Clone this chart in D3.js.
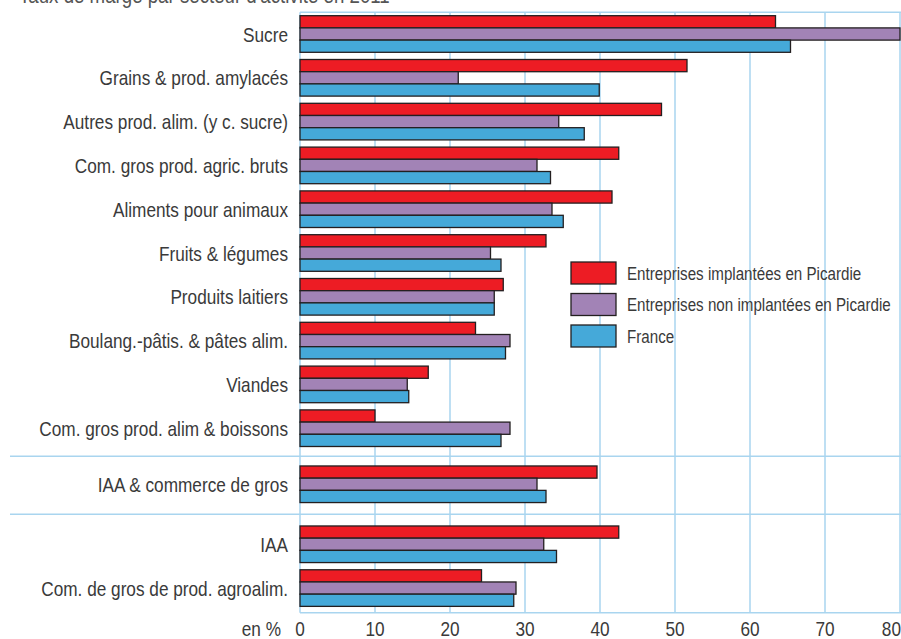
<!DOCTYPE html>
<html>
<head>
<meta charset="utf-8">
<script src="https://cdn.jsdelivr.net/npm/d3@7/dist/d3.min.js"></script>
<style>
  body { margin: 0; background: #fff; }
  svg text { font-family: "Liberation Sans", Arial, sans-serif; fill: #3a3a3a; }
</style>
</head>
<body>
<svg id="container" width="901" height="639"></svg>
<script>
var title = "Taux de marge par secteur d'activité en 2011";

var categories = [
  "Sucre",
  "Grains & prod. amylacés",
  "Autres prod. alim. (y c. sucre)",
  "Com. gros prod. agric. bruts",
  "Aliments pour animaux",
  "Fruits & légumes",
  "Produits laitiers",
  "Boulang.-pâtis. & pâtes alim.",
  "Viandes",
  "Com. gros prod. alim & boissons",
  "IAA & commerce de gros",
  "IAA",
  "Com. de gros de prod. agroalim."
];

// how many categories sit in each block (blocks split by a line)
var blockSizes = [10, 1, 2];

var seriesNames = [
  "Entreprises implantées en Picardie",
  "Entreprises non implantées en Picardie",
  "France"
];

var picardie    = [63.4, 51.6, 48.2, 42.5, 41.6, 32.8, 27.1, 23.4, 17.1, 10.0, 39.6, 42.5, 24.2];
var nonPicardie = [80.0, 21.1, 34.5, 31.6, 33.6, 25.4, 25.9, 28.0, 14.3, 28.0, 31.6, 32.5, 28.8];
var france      = [65.4, 39.9, 37.9, 33.4, 35.1, 26.8, 25.9, 27.4, 14.5, 26.8, 32.8, 34.2, 28.5];

var xTicks = [0, 10, 20, 30, 40, 50, 60, 70, 80];

var colors = ["#ed1c24", "#a283b6", "#45a9d9"];
var gridColor = "#a9d5ef";

// the source uses a narrow sans, squeeze Liberation Sans to get the same widths
var narrow = 0.82;

var svg = d3.select("#container");

var x = d3.scaleLinear().domain([0, 80]).range([300, 900]);

// slot index of each category, with extra room where a block starts
var gaps = [0, 0.28, 0.37];
var slots = [];
var acc = 0, idx = 0;
blockSizes.forEach(function(n, b) {
  acc += gaps[b];
  for (var k = 0; k < n; k++) {
    slots.push(idx + acc);
    idx++;
  }
});

var y = d3.scaleLinear().domain([0, 1]).range([34, 77.8]);
var inner = d3.scaleBand().domain([0, 1, 2]).range([-18.3, 18.3]);

var plotTop = 12.3, plotBottom = 612.7;

var place = function(px, py) {
  return "translate(" + px + "," + py + ") scale(" + narrow + ",1)";
};

// title, cut by the top edge as in the source
svg.append("text")
  .attr("transform", place(19, 3))
  .style("font-size", "22.8px")
  .style("fill", "#555")
  .text(title);

// grid
svg.append("g").selectAll("line")
  .data(xTicks)
  .enter().append("line")
  .attr("x1", function(d) {return x(d);})
  .attr("x2", function(d) {return x(d);})
  .attr("y1", plotTop)
  .attr("y2", plotBottom)
  .attr("stroke", gridColor)
  .attr("stroke-width", 1.5);

svg.append("line")
  .attr("x1", x(0)).attr("x2", 901)
  .attr("y1", plotTop).attr("y2", plotTop)
  .attr("stroke", gridColor).attr("stroke-width", 1.5);

svg.append("line")
  .attr("x1", x(0)).attr("x2", 901)
  .attr("y1", plotBottom).attr("y2", plotBottom)
  .attr("stroke", gridColor).attr("stroke-width", 1.5);

// block separators, halfway between the last group of a block and the next one
var sepSlots = [];
var start = 0;
for (var b = 0; b < blockSizes.length - 1; b++) {
  start += blockSizes[b];
  sepSlots.push((slots[start - 1] + slots[start]) / 2);
}
svg.append("g").selectAll("line")
  .data(sepSlots)
  .enter().append("line")
  .attr("x1", 10)
  .attr("x2", 901)
  .attr("y1", function(d) {return y(d);})
  .attr("y2", function(d) {return y(d);})
  .attr("stroke", gridColor)
  .attr("stroke-width", 1.5);

// bars
var rows = categories.map(function(c, i) {
  return {name: c, slot: slots[i], values: [picardie[i], nonPicardie[i], france[i]]};
});

var group = svg.selectAll(".group")
  .data(rows)
  .enter()
  .append("g")
  .attr("class", "group")
  .attr("transform", function(d) {return "translate(0, " + y(d.slot) + ")";});

group.selectAll("rect")
  .data(function(d) {return d.values;})
  .enter().append("rect")
  .attr("x", x(0))
  .attr("y", function(d, s) {return inner(s);})
  .attr("width", function(d) {return x(d) - x(0);})
  .attr("height", inner.bandwidth())
  .attr("fill", function(d, s) {return colors[s];})
  .attr("stroke", "#231f20")
  .attr("stroke-width", 1.3);

group.append("text")
  .attr("transform", place(288, 0))
  .attr("dy", ".36em")
  .attr("text-anchor", "end")
  .style("font-size", "21px")
  .text(function(d) {return d.name;});

// x tick labels (the last one is pulled inside the right edge)
var last = xTicks.length - 1;
svg.append("g").selectAll("text")
  .data(xTicks)
  .enter().append("text")
  .attr("transform", function(d, i) {return place(i == last ? 901 : x(d), 636);})
  .attr("text-anchor", function(d, i) {return i == last ? "end" : "middle";})
  .style("font-size", "21px")
  .text(function(d) {return d;});

svg.append("text")
  .attr("transform", place(281, 636))
  .attr("text-anchor", "end")
  .style("font-size", "21px")
  .text("en %");

// legend
var legend = svg.selectAll(".legend")
  .data(seriesNames)
  .enter()
  .append("g")
  .attr("class", "legend")
  .attr("transform", function(d, i) {return "translate(571, " + (262 + 31.5*i) + ")";});

legend.append("rect")
  .attr("width", 45)
  .attr("height", 22)
  .attr("fill", function(d, i) {return colors[i];})
  .attr("stroke", "#231f20")
  .attr("stroke-width", 1.3);

legend.append("text")
  .attr("transform", place(56, 11))
  .attr("dy", ".36em")
  .style("font-size", "18.5px")
  .text(function(d) {return d;});
</script>
</body>
</html>
